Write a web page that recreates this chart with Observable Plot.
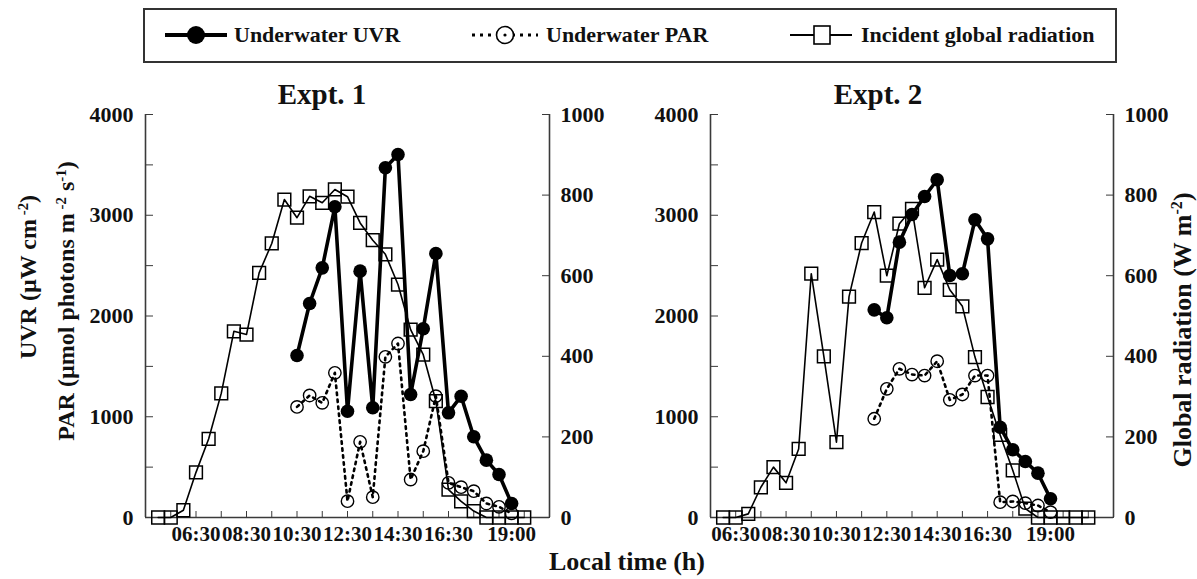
<!DOCTYPE html>
<html><head><meta charset="utf-8">
<script src="https://cdn.jsdelivr.net/npm/d3@7"></script>
<script src="https://cdn.jsdelivr.net/npm/@observablehq/plot@0.6"></script>
<style>
body{margin:0;background:#fff;}
#wrap{position:relative;width:1197px;height:579px;font-family:"Liberation Serif","Times New Roman",serif;font-weight:bold;color:#111;overflow:hidden;background:#fff;}
.abs{position:absolute;white-space:nowrap;}
.rot{transform:translate(-50%,-50%) rotate(-90deg);}
sup{font-size:0.62em;vertical-align:0.55em;line-height:0;}
</style></head><body>
<div id="wrap">
  <div class="abs" style="left:143px;top:8px;width:974px;height:55px;border:2px solid #333;box-sizing:border-box;"></div>
  <svg class="abs" style="left:0;top:0" width="1197" height="70">
    <line x1="165" y1="35" x2="227" y2="35" stroke="#000" stroke-width="4"/>
    <circle cx="196" cy="35" r="9" fill="#000"/>
    <line x1="472" y1="35" x2="538" y2="35" stroke="#000" stroke-width="3" stroke-dasharray="3,5"/>
    <circle cx="505" cy="35" r="8.5" fill="#fff" stroke="#000" stroke-width="1.6"/>
    <circle cx="505" cy="35" r="1.6" fill="#000"/>
    <line x1="790" y1="35" x2="852" y2="35" stroke="#000" stroke-width="2"/>
    <rect x="814" y="26" width="16" height="18" fill="#fff" stroke="#000" stroke-width="1.6"/>
  </svg>
  <div class="abs" style="left:234px;top:22px;font-size:22px;line-height:26px;">Underwater UVR</div>
  <div class="abs" style="left:546px;top:22px;font-size:22px;line-height:26px;">Underwater PAR</div>
  <div class="abs" style="left:861px;top:22px;font-size:22px;line-height:26px;">Incident global radiation</div>

  <div id="p1" class="abs" style="left:0;top:70px;width:610px;height:490px;"></div>
  <div id="p2" class="abs" style="left:610px;top:70px;width:587px;height:490px;"></div>

  <div class="abs" style="left:322px;top:80px;font-size:29px;line-height:29px;transform:translateX(-50%);">Expt. 1</div>
  <div class="abs" style="left:878px;top:80px;font-size:29px;line-height:29px;transform:translateX(-50%);">Expt. 2</div>
  <div class="abs" style="left:627px;top:549px;font-size:26px;line-height:26px;transform:translateX(-50%);">Local time (h)</div>
  <div class="abs rot" style="left:28px;top:277px;font-size:24px;line-height:26px;">UVR (µW cm<sup> -2</sup>)</div>
  <div class="abs rot" style="left:66px;top:301px;font-size:24px;line-height:26px;">PAR (µmol photons m<sup> -2</sup> s<sup>-1</sup>)</div>
  <div class="abs rot" style="left:1183px;top:330px;font-size:26px;line-height:28px;">Global radiation (W m<sup>-2</sup>)</div>
</div>
<script>
// ---------- Expt. 1 ----------
const e1GlobalTimes = ["05:00","05:30","06:00","06:30","07:00","07:30","08:00","08:30","09:00","09:30","10:00","10:30","11:00","11:30","12:00","12:30","13:00","13:30","14:00","14:30","15:00","15:30","16:00","16:30","17:00","17:30","18:00","18:30","19:00","19:30"];
const e1Global = [0,0,18,112,195,308,462,454,607,680,789,744,797,781,814,796,731,688,653,578,466,404,289,69,40,16,0,0,0,0];
const e1UnderTimes = ["10:30","11:00","11:30","12:00","12:30","13:00","13:30","14:00","14:30","15:00","15:30","16:00","16:30","17:00","17:30","18:00","18:30","19:00"];
const e1UVR = [1608,2124,2478,3084,1055,2445,1089,3471,3603,1221,1873,2620,1039,1204,801,569,427,139];
const e1PAR = [1098,1211,1138,1436,162,751,202,1595,1727,377,658,1204,344,301,261,139,106,40];
const e1Domain = ["04:30","20:30"];
const e1HourTicks = ["05:30","06:30","07:30","08:30","09:30","10:30","11:30","12:30","13:30","14:30","15:30","16:30","17:30","18:30","19:30"];

// ---------- Expt. 2 ----------
const e2GlobalTimes = ["06:00","06:30","07:00","07:30","08:00","08:30","09:00","09:30","10:00","10:30","11:00","11:30","12:00","12:30","13:00","13:30","14:00","14:30","15:00","15:30","16:00","16:30","17:00","17:30","18:00","18:30","19:00","19:30","20:00","20:30"];
const e2Global = [0,0,9,75,125,86,170,605,400,187,548,681,758,600,729,766,570,640,565,524,398,299,205,117,22,0,0,0,0,0];
const e2UnderTimes = ["12:00","12:30","13:00","13:30","14:00","14:30","15:00","15:30","16:00","16:30","17:00","17:30","18:00","18:30","19:00"];
const e2UVR = [2061,1982,2733,3007,3186,3352,2402,2419,2955,2766,896,672,556,440,186];
const e2PAR = [980,1277,1476,1419,1409,1551,1168,1221,1409,1409,152,159,142,119,53];
const e2Domain = ["05:30","21:30"];
const e2HourTicks = ["06:30","07:30","08:30","09:30","10:30","11:30","12:30","13:30","14:30","15:30","16:30","17:30","18:30","19:30","20:30"];

// ---------- axes ----------
const timeLabels = ["06:30","08:30","10:30","12:30","14:30","16:30","19:00"];
const leftTicks = [0,500,1000,1500,2000,2500,3000,3500,4000];
const leftLabels = [0,1000,2000,3000,4000];
const rightTicks = [0,200,400,600,800,1000];
const rightMax = 1000, leftMax = 4000;

const toHours = s => { const [h, m] = s.split(":").map(Number); return h + m / 60; };

function panel(cfg) {
  const ratio = leftMax / rightMax;
  const glob = cfg.gTimes.map((t, i) => ({x: toHours(t), v: cfg.gVals[i]}));
  const uvr = cfg.uTimes.map((t, i) => ({x: toHours(t), v: cfg.uvr[i]}));
  const par = cfg.uTimes.map((t, i) => ({x: toHours(t), v: cfg.par[i]}));
  const domain = cfg.domain.map(toHours);
  const labelMap = new Map(timeLabels.map(s => [toHours(s), s]));
  const axisStroke = "#3a3a3a";
  return Plot.plot({
    width: cfg.width, height: 490,
    marginLeft: cfg.ml, marginRight: cfg.mr, marginTop: 44, marginBottom: 43,
    x: {domain, label: null},
    y: {domain: [0, leftMax], label: null},
    style: {fontFamily: '"Liberation Serif","Times New Roman",serif', fontWeight: "bold", fontSize: "22px", color: "#111", background: "transparent", overflow: "visible"},
    marks: [
      Plot.ruleX(domain, {stroke: axisStroke, strokeWidth: 1.6}),
      Plot.ruleY([0], {stroke: axisStroke, strokeWidth: 1.6}),
      Plot.axisY(leftTicks, {anchor: "left", tickSize: -8, fill: "none", stroke: axisStroke, label: null}),
      Plot.axisY(leftLabels, {anchor: "left", tickSize: 0, tickPadding: 12, tickFormat: d => String(d), label: null}),
      Plot.axisY(rightTicks.map(v => v * ratio), {anchor: "right", tickSize: -8, tickPadding: 19, stroke: axisStroke, tickFormat: d => String(Math.round(d / ratio)), label: null}),
      Plot.axisX(cfg.hourTicks.map(toHours), {anchor: "bottom", tickSize: -6, fill: "none", stroke: axisStroke, label: null}),
      Plot.axisX(timeLabels.map(toHours), {anchor: "bottom", tickSize: 0, tickPadding: 9, fontSize: 21, tickFormat: d => labelMap.get(d), label: null}),
      Plot.line(glob, {x: "x", y: d => d.v * ratio, stroke: "#000", strokeWidth: 1.6}),
      Plot.dot(glob, {x: "x", y: d => d.v * ratio, symbol: "square", r: 7.2, stroke: "#000", fill: "none", strokeWidth: 1.5}),
      Plot.line(par, {x: "x", y: "v", stroke: "#000", strokeWidth: 2.6, strokeDasharray: "2.5,4.5"}),
      Plot.dot(par, {x: "x", y: "v", r: 6.2, stroke: "#000", fill: "none", strokeWidth: 1.4}),
      Plot.line(uvr, {x: "x", y: "v", stroke: "#000", strokeWidth: 3.6}),
      Plot.dot(uvr, {x: "x", y: "v", r: 6.8, fill: "#000", stroke: "none"})
    ]
  });
}

document.getElementById("p1").appendChild(panel({
  gTimes: e1GlobalTimes, gVals: e1Global, uTimes: e1UnderTimes, uvr: e1UVR, par: e1PAR,
  domain: e1Domain, hourTicks: e1HourTicks, width: 610, ml: 145, mr: 61
}));
document.getElementById("p2").appendChild(panel({
  gTimes: e2GlobalTimes, gVals: e2Global, uTimes: e2UnderTimes, uvr: e2UVR, par: e2PAR,
  domain: e2Domain, hourTicks: e2HourTicks, width: 587, ml: 100, mr: 84
}));
</script>
</body></html>
